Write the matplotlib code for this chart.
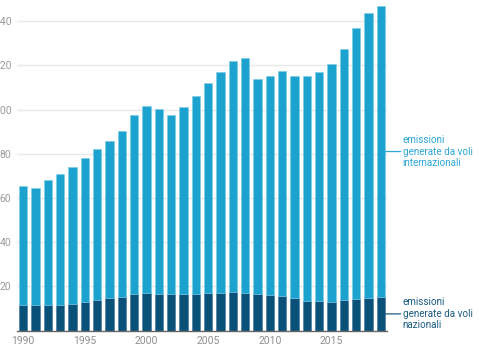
import matplotlib
matplotlib.use("Agg")
import matplotlib.pyplot as plt
import numpy as np

years = list(range(1990, 2020))
nazionali = [11.8, 11.5, 11.8, 11.5, 12.1, 13.0, 13.9, 14.8, 15.4, 16.5,
             17.2, 16.6, 16.5, 16.4, 16.8, 16.9, 16.9, 17.5, 16.9, 16.4,
             16.0, 15.6, 14.8, 13.6, 13.3, 13.1, 13.7, 14.3, 14.9, 15.2]
internazionali = [53.5, 52.9, 56.5, 59.4, 61.8, 65.3, 68.2, 71.0, 75.1, 81.1,
                  84.3, 83.7, 81.0, 84.7, 89.5, 95.0, 100.2, 104.5, 106.4, 97.4,
                  99.2, 102.0, 100.4, 101.5, 103.8, 107.7, 113.9, 122.7, 128.9, 131.7]
y_ticks = [20, 40, 60, 80, 100, 120, 140]
x_ticks = [1990, 1995, 2000, 2005, 2010, 2015]
label_int = "emissioni\ngenerate da voli\ninternazionali"
label_naz = "emissioni\ngenerate da voli\nnazionali"

c_light = "#1ba2cf"
c_dark = "#0a5179"
c_text_light = "#2ea6d6"
c_text_dark = "#1b5b84"

plt.rcParams['font.family'] = ['Roboto', 'DejaVu Sans']

fig = plt.figure(figsize=(4.8, 3.6), dpi=100)
ax = fig.add_axes([17/480, (360-330.7)/360, 370/480, 330.7/360])

x = np.arange(len(years))
ax.bar(x, nazionali, width=0.68, color=c_dark, edgecolor="#3f7598", linewidth=0.4, zorder=3)
ax.bar(x, internazionali, bottom=nazionali, width=0.68, color=c_light,
       edgecolor="#7fcbe6", linewidth=0.4, zorder=3)

ax.set_xlim(-0.5, len(years) - 0.5)
ax.set_ylim(0, 149.6)

ax.set_yticks(y_ticks)
ax.set_yticklabels([str(v) for v in y_ticks])
ax.yaxis.grid(True, color="#e9e9e9", linewidth=1.0, zorder=0)
ax.tick_params(axis="y", length=0, pad=4, labelsize=7.5, labelcolor="#9a9a9a")

ax.set_xticks([years.index(y) for y in x_ticks])
ax.set_xticklabels([str(y) for y in x_ticks])
ax.tick_params(axis="x", length=0, pad=4, labelsize=7.5, labelcolor="#8f8f8f")

for s in ["top", "right", "left"]:
    ax.spines[s].set_visible(False)
ax.spines["bottom"].set_color("#666666")
ax.spines["bottom"].set_linewidth(1.0)
ax.spines["bottom"].set_zorder(4)

last = len(years) - 1
y_naz = nazionali[-1] / 2
y_int = nazionali[-1] + internazionali[-1] / 2
for yv, lab, col in [(y_int, label_int, c_text_light), (y_naz, label_naz, c_text_dark)]:
    ax.annotate("", xy=(last + 0.34, yv), xytext=(last + 1.6, yv),
                arrowprops=dict(arrowstyle="-", color=col, lw=0.9, shrinkA=0, shrinkB=0),
                annotation_clip=False)
    ax.text(last + 1.78, yv, lab, color=col, fontsize=7.1, va="center", ha="left",
            linespacing=1.18, clip_on=False)

fig.savefig("out.png", dpi=100)
